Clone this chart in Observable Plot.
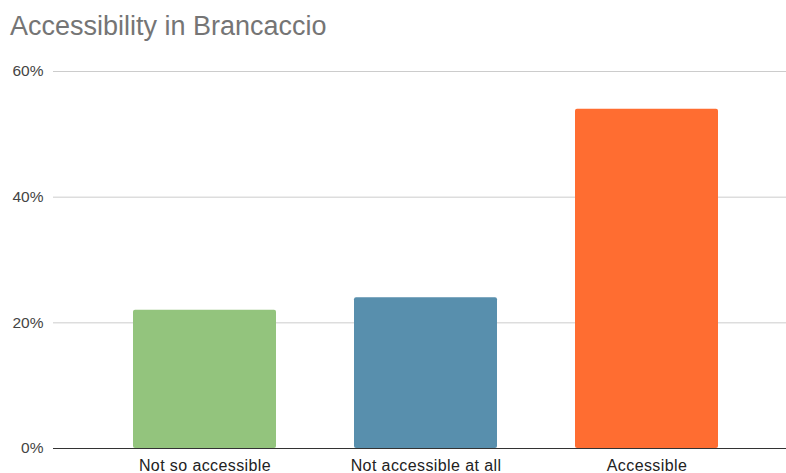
<!DOCTYPE html>
<html>
<head>
<meta charset="utf-8">
<script src="https://cdn.jsdelivr.net/npm/d3@7"></script>
<script src="https://cdn.jsdelivr.net/npm/@observablehq/plot@0.6"></script>
<style>
  body { margin: 0; background: #fff; font-family: "Liberation Sans", Arial, sans-serif; }
  #title { position: relative; height: 45px; }
  #title span { position: absolute; left: 10px; top: 11px; font-size: 27px; line-height: 30px; color: #757575; white-space: nowrap; }
</style>
</head>
<body>
<div id="title"><span>Accessibility in Brancaccio</span></div>
<div id="chart"></div>
<script>
const categories = ["Not so accessible", "Not accessible at all", "Accessible"];
const values = [0.22, 0.24, 0.54];
const colors = ["#93c47d", "#588fad", "#ff6d31"];
const yTicks = [0, 0.2, 0.4, 0.6];

const data = categories.map((c, i) => ({category: c, value: values[i], color: colors[i]}));

const chart = Plot.plot({
  width: 786,
  height: 428,
  marginTop: 26,
  marginBottom: 25,
  marginLeft: 53,
  marginRight: 0,
  style: {fontFamily: "'Liberation Sans', Arial, sans-serif", fontSize: "15.5px", background: "#fff", overflow: "visible"},
  x: {domain: categories, paddingInner: 0.355, paddingOuter: 0.334, align: 0.54, label: null, tickSize: 0, tickPadding: 11},
  y: {domain: [0, 0.6], ticks: yTicks, tickFormat: d3.format(".0%"), label: null, tickSize: 0, tickPadding: 10},
  marks: [
    Plot.gridY(yTicks.filter(d => d > 0), {stroke: "#cccccc", strokeOpacity: 1, strokeWidth: 1}),
    Plot.barY(data, {x: "category", y: "value", fill: "color", rx: 2}),
    Plot.ruleY([0], {stroke: "#333333", strokeWidth: 1})
  ]
});
chart.querySelectorAll('[aria-label="y-axis tick label"] text').forEach(t => t.setAttribute("fill", "#444"));
chart.querySelectorAll('[aria-label="x-axis tick label"] text').forEach(t => {
  t.setAttribute("fill", "#222");
  t.setAttribute("font-size", "16px");
  t.setAttribute("letter-spacing", "0.4px");
});
document.getElementById("chart").appendChild(chart);
</script>
</body>
</html>
